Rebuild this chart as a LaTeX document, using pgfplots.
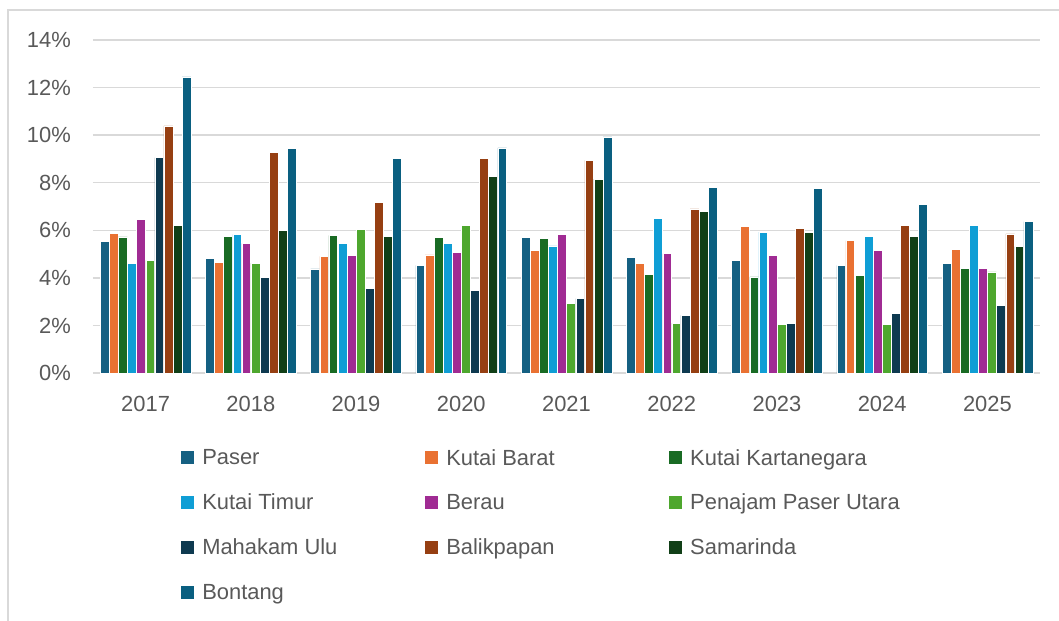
\documentclass[border=0pt]{standalone}
\usepackage{pgfplots}
\pgfplotsset{compat=1.18}
\usepackage{pgfplotstable}
\usepackage{fontspec}
\setmainfont{Liberation Sans}
\definecolor{cPaser}{HTML}{156082}
\definecolor{cKB}{HTML}{E97132}
\definecolor{cKK}{HTML}{196B24}
\definecolor{cKT}{HTML}{0F9ED5}
\definecolor{cBerau}{HTML}{A02B93}
\definecolor{cPPU}{HTML}{4EA72E}
\definecolor{cMU}{HTML}{0E3A50}
\definecolor{cBal}{HTML}{963F12}
\definecolor{cSam}{HTML}{113F17}
\definecolor{cBon}{HTML}{0A5F80}
\definecolor{gridc}{HTML}{D9D9D9}
\definecolor{txt}{HTML}{595959}
\pgfplotstableread{
x Paser KB KK KT Berau PPU MU Bal Sam Bon
0 5.54 5.87 5.72 4.60 6.45 4.74 9.06 10.39 6.20 12.45
1 4.83 4.66 5.73 5.83 5.45 4.62 4.03 9.27 6.00 9.43
2 4.38 4.90 5.79 5.45 4.94 6.03 3.57 7.16 5.73 9.02
3 4.52 4.97 5.69 5.45 5.08 6.21 3.48 9.02 8.27 9.47
4 5.69 5.15 5.65 5.34 5.82 2.94 3.13 8.94 8.15 9.93
5 4.87 4.62 4.14 6.49 5.02 2.10 2.42 6.90 6.78 7.82
6 4.73 6.15 4.04 5.92 4.94 2.06 2.08 6.08 5.92 7.75
7 4.53 5.57 4.11 5.76 5.15 2.04 2.50 6.21 5.75 7.08
8 4.62 5.20 4.39 6.21 4.39 4.25 2.84 5.85 5.31 6.36
}\datatable
\newcommand{\lbl}[1]{\makebox[221bp][l]{#1}}
\begin{document}
\begin{tikzpicture}
\useasboundingbox (0,0) rectangle (1059bp,-621bp);
\draw[gridc, line width=1.2bp] (8bp,-621bp) -- (8bp,-10bp) -- (1059bp,-10bp);
\begin{axis}[
  at={(93bp,-373bp)}, anchor=south west,
  scale only axis, width=947bp, height=333bp,
  xmin=-0.5, xmax=8.5, ymin=0, ymax=14,
  ybar=0.3bp, bar width=8.8bp,
  axis line style={draw=none},
  xtick={0,...,8},
  xticklabels={2017,2018,2019,2020,2021,2022,2023,2024,2025},
  ytick={0,2,...,14},
  yticklabel={\pgfmathprintnumber{\tick}\%},
  /pgf/number format/assume math mode=true,
  major tick length=0pt,
  ymajorgrids,
  grid style={gridc, line width=1.3bp},
  tick label style={font=\fontsize{22}{26}\selectfont, text=txt},
  yticklabel style={anchor=east, inner sep=0pt, xshift=-22bp},
  xticklabel style={anchor=north, inner sep=0pt, yshift=-23bp},
  legend columns=3,
  legend style={at={(0.093,-0.222)}, anchor=north west, draw=none, inner sep=0pt,
    font=\fontsize{22}{26}\selectfont, text=txt, row sep=23.6bp,
    /tikz/every odd column/.append style={column sep=6bp}},
  legend cell align=left,
  legend image code/.code={\fill[#1, draw=none] (0bp,-6.5bp) rectangle (13bp,6.5bp);},
  every axis plot/.append style={draw=white, line width=0.5bp},
]
\addplot[fill=cPaser] table[x=x,y=Paser]{\datatable}; \addlegendentry{\lbl{Paser}}
\addplot[fill=cKB] table[x=x,y=KB]{\datatable}; \addlegendentry{\lbl{Kutai Barat}}
\addplot[fill=cKK] table[x=x,y=KK]{\datatable}; \addlegendentry{\lbl{Kutai Kartanegara}}
\addplot[fill=cKT] table[x=x,y=KT]{\datatable}; \addlegendentry{\lbl{Kutai Timur}}
\addplot[fill=cBerau] table[x=x,y=Berau]{\datatable}; \addlegendentry{\lbl{Berau}}
\addplot[fill=cPPU] table[x=x,y=PPU]{\datatable}; \addlegendentry{\lbl{Penajam Paser Utara}}
\addplot[fill=cMU] table[x=x,y=MU]{\datatable}; \addlegendentry{\lbl{Mahakam Ulu}}
\addplot[fill=cBal] table[x=x,y=Bal]{\datatable}; \addlegendentry{\lbl{Balikpapan}}
\addplot[fill=cSam] table[x=x,y=Sam]{\datatable}; \addlegendentry{\lbl{Samarinda}}
\addplot[fill=cBon] table[x=x,y=Bon]{\datatable}; \addlegendentry{\lbl{Bontang}}
\end{axis}
\end{tikzpicture}
\end{document}
